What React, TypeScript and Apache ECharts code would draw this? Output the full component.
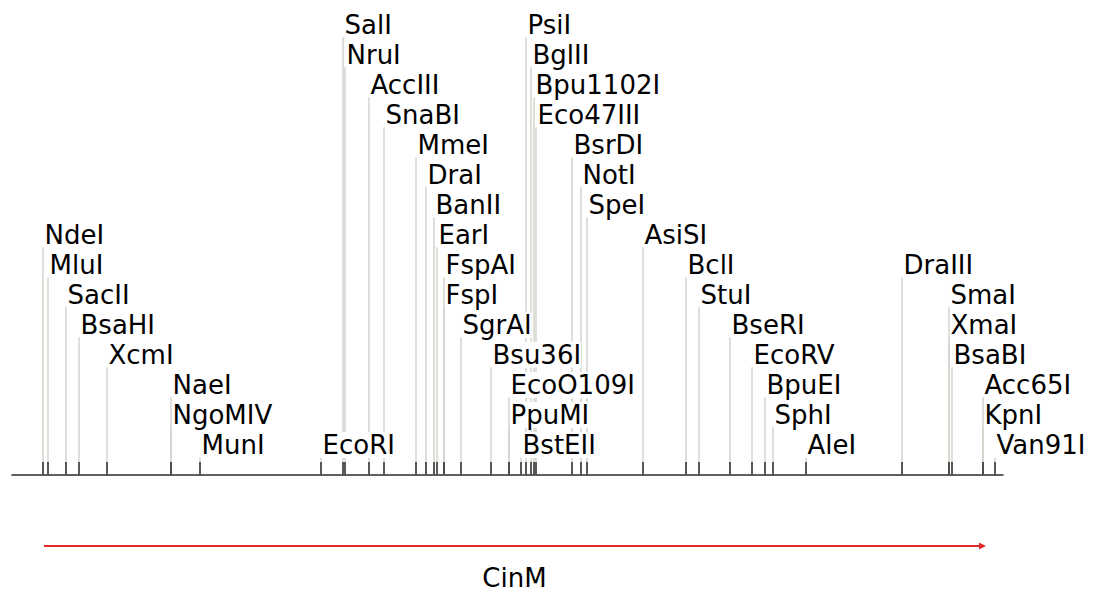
import React, { useEffect, useRef } from "react";
import * as echarts from "echarts";

// Restriction sites: name, position (axis units), label row (0 = top row)
const siteNames = [
  "NdeI", "MluI", "SacII", "BsaHI", "XcmI", "NaeI", "NgoMIV", "MunI",
  "EcoRI", "SalI", "NruI", "AccIII", "SnaBI", "MmeI", "DraI", "BanII",
  "EarI", "FspAI", "FspI", "SgrAI", "Bsu36I", "EcoO109I", "PpuMI", "BstEII",
  "PsiI", "BglII", "Bpu1102I", "Eco47III", "BsrDI", "NotI", "SpeI",
  "AsiSI", "BclI", "StuI", "BseRI", "EcoRV", "BpuEI", "SphI", "AleI",
  "DraIII", "SmaI", "XmaI", "BsaBI", "Acc65I", "KpnI", "Van91I",
];
const sitePositions = [
  31, 36, 54, 67, 95, 159, 159, 188,
  309, 331, 333, 357, 372, 404, 414, 422,
  425, 432, 432, 449, 479, 497, 497, 509,
  514, 519, 522, 524, 560, 569, 575,
  631, 674, 687, 718, 740, 753, 761, 794,
  890, 937, 937, 940, 971, 971, 983,
];
const siteRows = [
  7, 8, 9, 10, 11, 12, 13, 14,
  14, 0, 1, 2, 3, 4, 5, 6,
  7, 8, 9, 10, 11, 12, 13, 14,
  0, 1, 2, 3, 4, 5, 6,
  7, 8, 9, 10, 11, 12, 13, 14,
  8, 9, 10, 11, 12, 13, 14,
];

// Gene feature
const geneName = "CinM";
const geneStart = 32;
const geneEnd = 973;

const SEQ_MAX = 991;
const ROWS = 15;
const FONT = "'DejaVu Sans', Verdana, Tahoma, sans-serif";
const FONT_SIZE = 26;

export default function App() {
  const ref = useRef<HTMLDivElement>(null);
  useEffect(() => {
    if (!ref.current) return;
    const chart = echarts.init(ref.current, undefined, { renderer: "svg" });
    const siteData = siteNames.map((n, i) => [sitePositions[i], ROWS - siteRows[i], n]);
    const option: any = {
      animation: false,
      backgroundColor: "#ffffff",
      grid: { left: 12, top: 24.7, width: 991, height: 19 * 30.1 },
      xAxis: {
        type: "value",
        min: 0,
        max: SEQ_MAX,
        axisLine: { show: true, onZero: true, lineStyle: { color: "#2b2b2b", width: 1.6 } },
        axisTick: { show: false },
        axisLabel: { show: false },
        splitLine: { show: false },
      },
      yAxis: {
        type: "value",
        min: -4,
        max: ROWS,
        show: false,
        splitLine: { show: false },
      },
      series: [
        {
          type: "custom",
          z: 1,
          data: siteData,
          renderItem: (params: any, api: any) => {
            const x = api.value(0);
            const v = api.value(1);
            const base = api.coord([x, 0]);
            const top = api.coord([x, v - 0.415]);
            const tickTop = api.coord([x, 0.432]);
            return {
              type: "group",
              children: [
                {
                  type: "line",
                  shape: { x1: base[0], y1: base[1], x2: top[0], y2: top[1] },
                  style: { stroke: "#d4d4cc", lineWidth: 1.5 },
                },
                {
                  type: "line",
                  shape: { x1: base[0], y1: base[1], x2: base[0], y2: tickTop[1] },
                  style: { stroke: "#2b2b2b", lineWidth: 1.5 },
                },
              ],
            };
          },
        },
        {
          type: "custom",
          z: 2,
          data: siteData,
          renderItem: (params: any, api: any) => {
            const x = api.value(0);
            const v = api.value(1);
            const p = api.coord([x, v]);
            const name = siteNames[params.dataIndex];
            return {
              type: "text",
              x: p[0] + 1.5,
              y: p[1],
              style: {
                text: name,
                fontSize: FONT_SIZE,
                fontFamily: FONT,
                fill: "#000000",
                align: "left",
                verticalAlign: "middle",
                backgroundColor: "#ffffff",
              },
            };
          },
        },
        {
          type: "custom",
          z: 3,
          data: [[geneStart, geneEnd, geneName]],
          renderItem: (params: any, api: any) => {
            const s = api.value(0);
            const e = api.value(1);
            const a = api.coord([s, -2.37]);
            const b = api.coord([e, -2.37]);
            const t = api.coord([(s + e) / 2, -3.45]);
            return {
              type: "group",
              children: [
                {
                  type: "line",
                  shape: { x1: a[0], y1: a[1], x2: b[0] - 4, y2: b[1] },
                  style: { stroke: "#e02b2b", lineWidth: 2 },
                },
                {
                  type: "polygon",
                  shape: { points: [[b[0] - 6, b[1] - 3.5], [b[0] + 1, b[1]], [b[0] - 6, b[1] + 3.5]] },
                  style: { fill: "#e02b2b" },
                },
                {
                  type: "text",
                  x: t[0],
                  y: t[1],
                  style: {
                    text: geneName,
                    fontSize: FONT_SIZE,
                    fontFamily: FONT,
                    fill: "#000000",
                    align: "center",
                    verticalAlign: "middle",
                  },
                },
              ],
            };
          },
        },
      ],
    };
    chart.setOption(option);
    return () => chart.dispose();
  }, []);
  return (
    <div
      ref={ref}
      style={{ position: "fixed", left: 0, top: 0, width: 1102, height: 595, background: "#fff" }}
    />
  );
}
